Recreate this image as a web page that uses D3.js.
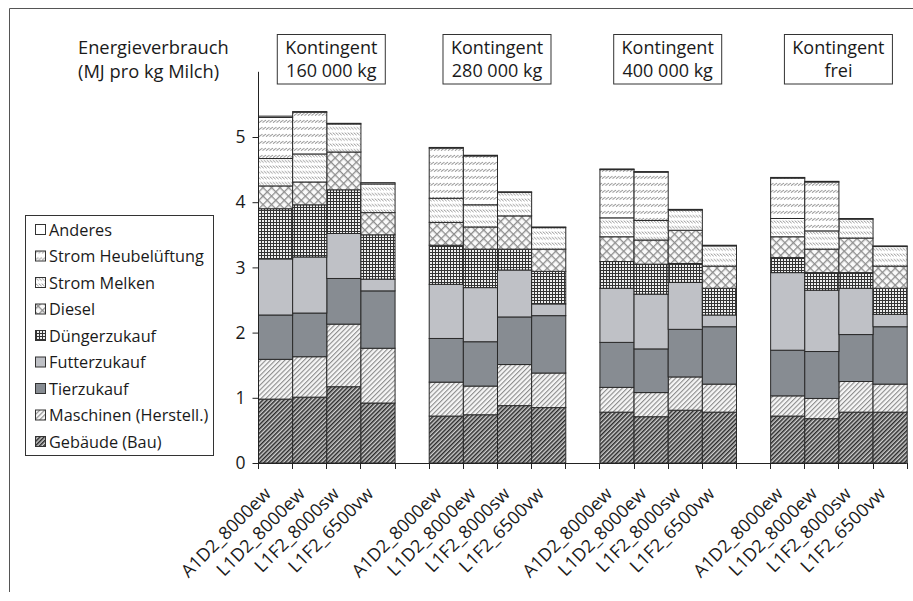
<!DOCTYPE html>
<html><head><meta charset="utf-8">
<script src="https://cdn.jsdelivr.net/npm/d3@7/dist/d3.min.js"></script>
<style>
html,body{margin:0;padding:0;background:#fff;}
text{font-family:"Open Sans",sans-serif;fill:#1a1a1a;}
</style></head>
<body>
<svg id="chart" width="913" height="601"></svg>
<script>
// ---------- DATA ----------
const groups = [["Kontingent","160 000 kg"],["Kontingent","280 000 kg"],["Kontingent","400 000 kg"],["Kontingent","frei"]];
const variants = ["A1D2_8000ew","L1D2_8000ew","L1F2_8000sw","L1F2_6500vw"];
const seriesNames = ["Gebäude (Bau)","Maschinen (Herstell.)","Tierzukauf","Futterzukauf","Düngerzukauf","Diesel","Strom Melken","Strom Heubelüftung","Anderes"];
const gebaeude     = [0.98,1.01,1.17,0.92, 0.72,0.74,0.88,0.85, 0.78,0.71,0.81,0.78, 0.72,0.68,0.78,0.78];
const maschinen    = [0.61,0.62,0.96,0.84, 0.52,0.44,0.63,0.53, 0.38,0.37,0.51,0.43, 0.31,0.31,0.47,0.43];
const tierzukauf   = [0.68,0.67,0.70,0.88, 0.67,0.68,0.73,0.88, 0.69,0.67,0.73,0.88, 0.70,0.72,0.72,0.88];
const futterzukauf = [0.86,0.86,0.69,0.18, 0.83,0.83,0.72,0.18, 0.83,0.84,0.72,0.18, 1.19,0.94,0.71,0.19];
const duengerzukauf= [0.77,0.80,0.67,0.68, 0.60,0.59,0.32,0.50, 0.41,0.46,0.29,0.41, 0.23,0.27,0.24,0.40];
const diesel       = [0.35,0.35,0.58,0.34, 0.35,0.34,0.51,0.34, 0.38,0.37,0.51,0.34, 0.32,0.36,0.53,0.34];
const stromMelken  = [0.42,0.43,0.43,0.44, 0.37,0.34,0.36,0.33, 0.29,0.30,0.31,0.31, 0.28,0.28,0.29,0.30];
const stromHeu     = [0.63,0.64,0.00,0.00, 0.77,0.75,0.00,0.00, 0.74,0.74,0.00,0.00, 0.62,0.75,0.00,0.00];
const anderes      = [0.02,0.01,0.01,0.02, 0.01,0.01,0.01,0.01, 0.01,0.01,0.01,0.01, 0.01,0.01,0.01,0.01];
const yTicks = [0,1,2,3,4,5];
const yTitle = ["Energieverbrauch","(MJ pro kg Milch)"];

const seriesValues = [gebaeude,maschinen,tierzukauf,futterzukauf,duengerzukauf,diesel,stromMelken,stromHeu,anderes];
const seriesKeys = ["geb","mas","tie","fut","due","die","mel","heu","and"];

// build rows (with gap slots between groups)
const rows = [];
const domain = [];
groups.forEach((g,gi)=>{
  variants.forEach((v,vi)=>{
    const key = gi+"|"+v;
    const row = {key, label:v, group:gi};
    seriesKeys.forEach((k,si)=> row[k] = seriesValues[si][gi*4+vi]);
    rows.push(row); domain.push(key);
  });
  if(gi < groups.length-1) domain.push("gap"+gi);
});

// ---------- LAYOUT ----------
const svg = d3.select("#chart");
const x = d3.scaleBand().domain(domain).range([258, 906.7]).padding(0);
const y = d3.scaleLinear().domain([0,6]).range([463, 71.8]);

// patterns
const defs = svg.append("defs");
function pat(id,w,h,transform,draw){
  const p = defs.append("pattern").attr("id",id).attr("patternUnits","userSpaceOnUse")
    .attr("width",w).attr("height",h);
  if(transform) p.attr("patternTransform",transform);
  draw(p);
}
pat("p-geb",3,3,"rotate(45)",p=>{
  p.append("rect").attr("width",3).attr("height",3).attr("fill","#cfcfcf");
  p.append("rect").attr("width",1.5).attr("height",3).attr("fill","#2a2a2a");
});
pat("p-mas",3.4,3.4,"rotate(45)",p=>{
  p.append("rect").attr("width",3.4).attr("height",3.4).attr("fill","#f6f6f6");
  p.append("rect").attr("width",1.1).attr("height",3.4).attr("fill","#8c8c8c");
});
pat("p-due",3,3,null,p=>{
  p.append("rect").attr("width",3).attr("height",3).attr("fill","#eeeeee");
  p.append("rect").attr("width",3).attr("height",1).attr("fill","#333");
  p.append("rect").attr("width",1).attr("height",3).attr("fill","#333");
});
pat("p-die",6,6,"rotate(45)",p=>{
  p.append("rect").attr("width",6).attr("height",6).attr("fill","#fafafa");
  p.append("rect").attr("width",6).attr("height",1.3).attr("fill","#8e8e8e");
  p.append("rect").attr("width",1.3).attr("height",6).attr("fill","#8e8e8e");
});
pat("p-mel",3,5.5,null,p=>{
  p.append("rect").attr("width",3).attr("height",5.5).attr("fill","#fff");
  p.append("path").attr("d","M-0.3,0.6 L2.7,3.1 M2.7,0.6 L5.7,3.1 M-3.3,0.6 L-0.3,3.1").attr("stroke","#888").attr("stroke-width",0.9);
});
pat("p-heu",3.5,7,null,p=>{
  p.append("rect").attr("width",3.5).attr("height",7).attr("fill","#fff");
  p.append("path").attr("d","M0,3.6 L3.5,1 M3.5,3.6 L7,1 M-3.5,3.6 L0,1").attr("stroke","#888").attr("stroke-width",0.9);
});
const fills = {geb:"url(#p-geb)",mas:"url(#p-mas)",tie:"#878c92",fut:"#bfc1c6",due:"url(#p-due)",die:"url(#p-die)",mel:"url(#p-mel)",heu:"url(#p-heu)",and:"#ffffff"};

// outer frame
svg.append("path").attr("d","M9.5,592 V8.5 H913").attr("fill","none").attr("stroke","#555").attr("stroke-width",1);

// stacked bars
const stack = d3.stack().keys(seriesKeys)(rows);
const layers = svg.append("g").selectAll("g").data(stack).join("g")
  .attr("fill",d=>fills[d.key]);
layers.selectAll("rect").data(d=>d.filter(s=>s[1]-s[0]>0)).join("rect")
  .attr("x",d=>x(d.data.key)+0.5)
  .attr("width",x.bandwidth())
  .attr("y",d=>y(d[1]))
  .attr("height",d=>y(d[0])-y(d[1]))
  .attr("stroke","#2a2a2a").attr("stroke-width",1);

// y axis
const yAxis = svg.append("g").attr("transform","translate(258.5,0)")
  .call(d3.axisLeft(y).tickValues(yTicks).tickFormat(d3.format("d")).tickSize(6).tickPadding(7));
yAxis.select(".domain").attr("stroke","#222").attr("d","M0,"+y(6)+"V"+(y(0)+0.5));
yAxis.selectAll(".tick line").attr("stroke","#222");
yAxis.selectAll(".tick text").attr("font-size",17.5).attr("font-family","Open Sans").attr("fill","#1a1a1a");

// x axis line + boundary ticks
const xg = svg.append("g");
xg.append("line").attr("x1",258).attr("x2",906.7).attr("y1",y(0)+0.5).attr("y2",y(0)+0.5).attr("stroke","#222");
const bounds = domain.map(k=>x(k)).concat([x(domain[domain.length-1])+x.bandwidth()]);
xg.selectAll("line.tk").data(bounds).join("line").attr("class","tk")
  .attr("x1",d=>Math.round(d)+0.5).attr("x2",d=>Math.round(d)+0.5)
  .attr("y1",y(0)).attr("y2",y(0)+6).attr("stroke","#222");
xg.selectAll("text").data(rows).join("text")
  .attr("transform",d=>`translate(${x(d.key)+x.bandwidth()/2-3},${y(0)+32}) rotate(-45)`)
  .attr("text-anchor","end").attr("font-size",18)
  .text(d=>d.label);

// group header boxes
const hdr = svg.append("g").selectAll("g").data(groups).join("g")
  .attr("transform",(d,i)=>{
    const k0 = i+"|"+variants[0], k3 = i+"|"+variants[3];
    const cx = (x(k0)+x(k3)+x.bandwidth())/2 + (i===0?5:0);
    return `translate(${cx},0)`;
  });
hdr.append("rect").attr("x",-54).attr("y",34.5).attr("width",108).attr("height",49.5)
  .attr("fill","#fff").attr("stroke","#333").attr("stroke-width",1);
hdr.selectAll("text").data(d=>d).join("text")
  .attr("x",0).attr("y",(d,i)=>53.5+i*23.5).attr("text-anchor","middle").attr("font-size",18)
  .text(d=>d);

// y title
svg.append("g").selectAll("text").data(yTitle).join("text")
  .attr("x",78).attr("y",(d,i)=>53.5+i*24).attr("font-size",18.3).text(d=>d);

// legend
const lg = svg.append("g");
lg.append("rect").attr("x",25.5).attr("y",215.5).attr("width",188).attr("height",240)
  .attr("fill","#fff").attr("stroke","#333").attr("stroke-width",1);
const legendItems = seriesKeys.map((k,i)=>({k,name:seriesNames[i]})).reverse();
const li = lg.selectAll("g.li").data(legendItems).join("g").attr("class","li")
  .attr("transform",(d,i)=>`translate(0,${230+i*26.5})`);
li.append("rect").attr("x",35.5).attr("y",-5.5).attr("width",10).attr("height",10)
  .attr("fill",d=>fills[d.k]).attr("stroke","#333").attr("stroke-width",1);
li.append("text").attr("x",49).attr("y",5.8).attr("font-size",16.3).text(d=>d.name);
</script>
</body></html>
